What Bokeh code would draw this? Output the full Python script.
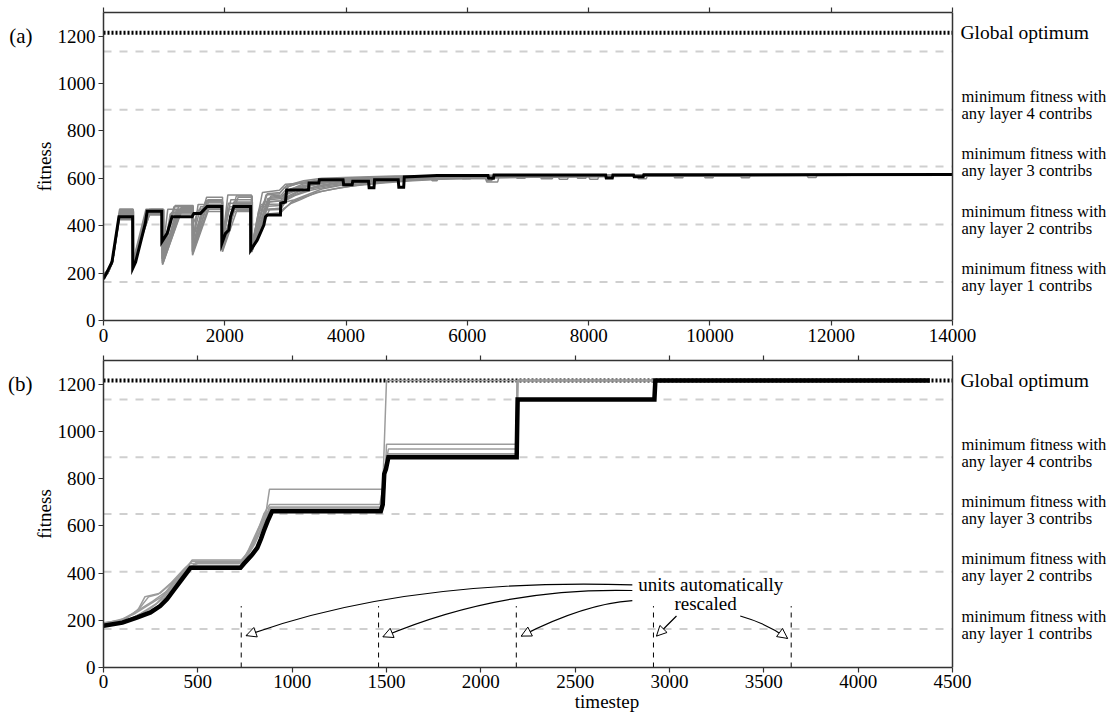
from bokeh.plotting import figure
from bokeh.layouts import column
from bokeh.models import Label, LinearAxis, FixedTicker, Range1d, Span, Arrow, NormalHead
from bokeh.embed import file_html
from bokeh.resources import INLINE

FONT = "Liberation Serif"

# ---------------- data ----------------
x_ticks_a = [0, 2000, 4000, 6000, 8000, 10000, 12000, 14000]
x_ticks_b = [0, 500, 1000, 1500, 2000, 2500, 3000, 3500, 4000, 4500]
y_ticks = [0, 200, 400, 600, 800, 1000, 1200]

optimum_level = 1215
layer_levels = [163, 405, 650, 890]
layer_numbers = [1, 2, 3, 4]
extra_level = 1135

# panel (a): best run (black)
black_a = [(0,175),(60,205),(140,247),(255,438),(480,438),(482,220),(530,247),(690,411),(720,461),
           (960,461),(962,332),(1050,368),(1130,438),(1460,438),(1490,452),(1600,452),(1710,481),
           (1950,481),(1952,325),(2012,368),(2067,382),(2094,438),(2150,481),(2425,481),(2427,297),
           (2534,339),(2644,403),(2672,438),(2700,445),(2918,445),(2922,495),(3000,500),(3020,551),
           (3380,552),(3390,580),(3550,580),(3560,594),(3950,594),(3960,573),(4100,573),(4110,588),
           (4370,588),(4380,560),(4460,560),(4470,594),(4860,594),(4870,562),(4950,562),(4960,606),
           (5500,612),(6340,612),(6350,600),(6430,600),(6440,614),(8280,614),(8290,601),(8390,601),
           (8400,614),(8740,614),(8750,607),(8900,607),(8910,615),(14000,616)]

# panel (a): other runs (grey)
gray_a1 = [(0,190),(90,215),(160,270),(270,470),(485,470),(487,250),(700,470),(980,470),(982,300),(1060,470),
           (1470,470),(1472,330),(1560,490),(1955,490),(1957,320),(2050,530),(2440,530),(2442,310),(2620,540),
           (2900,550),(3000,575),(3300,580),(3600,595),(4000,600),(4500,605),(5200,610),(6000,612),(7000,614),
           (14000,616)]
gray_a2 = [(0,185),(80,205),(150,250),(265,445),(490,445),(492,240),(740,455),(985,455),(987,250),(1280,475),
           (1475,475),(1477,290),(1750,490),(1960,490),(1962,295),(2180,480),(2445,480),(2447,290),(2720,510),
           (2950,515),(3050,545),(3200,560),(3500,575),(3900,590),(4400,596),(4800,600),(5400,598),(5420,590),
           (5500,590),(5520,606),(7000,610),(9000,613),(14000,615)]
gray_a3 = [(0,180),(70,200),(145,245),(260,430),(488,430),(490,235),(725,460),(975,460),(977,240),(1300,470),
           (1468,470),(1470,280),(1700,490),(1950,490),(1952,300),(2150,470),(2450,470),(2452,300),(2700,450),
           (2920,455),(3100,500),(3300,520),(3600,545),(3900,560),(4300,575),(4700,585),(5200,595),(6300,600),
           (6320,585),(6500,585),(6520,605),(8000,608),(11000,613),(14000,615)]
gray_a4 = [(0,195),(100,220),(170,280),(280,460),(495,460),(497,255),(780,465),(990,465),(992,270),(1160,480),
           (1480,480),(1482,300),(1680,500),(1965,500),(1967,310),(2150,500),(2455,500),(2457,320),(2680,530),
           (2900,535),(2980,560),(3200,578),(3500,585),(3800,592),(4300,598),(5000,605),(7200,610),(7220,598),
           (7400,598),(7420,612),(14000,616)]
gray_a5 = [(0,178),(60,195),(140,240),(255,425),(482,425),(484,228),(710,450),(965,450),(967,260),(1220,460),
           (1462,460),(1464,400),(1580,470),(1960,470),(1962,290),(2200,465),(2438,465),(2440,288),(2740,500),
           (2950,505),(3150,530),(3400,555),(3700,570),(4000,580),(4500,590),(5100,600),(6000,605),(8000,610),
           (8020,596),(8150,596),(8170,611),(14000,614)]
gray_a6 = [(0,188),(85,210),(155,260),(268,455),(487,455),(489,245),(750,462),(982,462),(984,290),(1290,480),
           (1471,480),(1473,350),(1720,510),(1958,510),(1960,330),(2220,520),(2446,520),(2448,305),(2760,525),
           (2930,530),(3050,565),(3300,585),(3700,595),(4200,600),(4800,606),(5900,610),(5920,598),(6050,598),
           (6070,612),(14000,616)]
gray_a7 = [(0,183),(75,203),(148,248),(262,440),(486,440),(488,232),(735,458),(972,458),(974,235),(1300,478),
           (1466,478),(1468,275),(1750,480),(1953,480),(1955,305),(2170,475),(2442,475),(2444,295),(2740,470),
           (2930,475),(3000,500),(3150,510),(3350,530),(3600,555),(3900,570),(4400,580),(5000,592),(5800,600),
           (7500,606),(7520,596),(7650,596),(7670,608),(10000,612),(14000,615)]
gray_a8 = [(0,192),(95,218),(165,275),(275,465),(492,465),(494,260),(790,468),(995,468),(997,310),(1180,485),
           (1478,485),(1480,320),(1700,520),(1963,520),(1965,300),(2190,525),(2452,525),(2454,315),(2700,535),
           (2910,540),(3020,570),(3300,590),(3600,600),(4100,605),(4800,610),(6800,612),(6820,600),(6950,600),
           (6970,614),(14000,617)]
gray_a9 = [(0,180),(65,198),(142,243),(258,435),(484,435),(486,240),(715,455),(968,455),(970,250),(1260,468),
           (1469,468),(1471,285),(1740,485),(1948,485),(1950,298),(2140,460),(2436,460),(2438,290),(2690,445),
           (2915,448),(2960,470),(3100,495),(3250,510),(3500,540),(3800,555),(4100,568),(4600,580),(5100,590),
           (5700,598),(6300,600),(6320,590),(6400,590),(6420,603),(9000,610),(14000,614)]
gray_a10 = [(0,186),(88,212),(158,262),(270,450),(489,450),(491,238),(745,460),(978,460),(980,245),(1270,472),
            (1473,472),(1475,300),(1730,500),(1956,500),(1958,315),(2170,490),(2448,490),(2450,300),(2750,520),
            (2940,525),(3080,555),(3300,570),(3700,588),(4200,595),(4700,603),(5600,608),(8800,610),(8820,598),
            (8950,598),(8970,612),(14000,615)]
gray_a11 = [(0,184),(80,208),(150,255),(266,470),(490,470),(492,250),(760,470),(985,470),(987,280),(1250,470),
            (1476,470),(1478,310),(1660,480),(1952,480),(1954,320),(2100,510),(2440,510),(2442,300),(2640,500),
            (2920,505),(3050,540),(3250,560),(3600,580),(4000,592),(4600,600),(5300,606),(9400,612),(9420,602),
            (9550,602),(9570,613),(14000,615)]
gray_a12 = [(0,182),(72,200),(146,247),(262,445),(483,445),(485,242),(720,445),(970,445),(972,265),(1120,455),
            (1465,455),(1467,295),(1620,470),(1945,470),(1947,310),(2080,480),(2435,480),(2437,295),(2600,490),
            (2915,492),(3000,520),(3200,545),(3500,565),(3800,578),(4200,588),(4800,597),(5500,604),(10500,612),
            (10520,603),(10650,603),(10670,613),(14000,615)]
gray_a13 = [(0,187),(82,210),(152,256),(264,452),(487,452),(489,236),(770,458),(976,458),(978,255),(1200,465),
            (1470,465),(1472,305),(1640,475),(1957,475),(1959,292),(2120,470),(2447,470),(2449,292),(2660,470),
            (2925,472),(3040,520),(3250,548),(3550,570),(3900,585),(4400,594),(5000,602),(6200,608),(7800,611),
            (7820,600),(7950,600),(7970,612),(14000,615)]
gray_a14 = [(0,181),(68,199),(144,244),(259,438),(485,438),(487,248),(705,452),(970,452),(972,285),(1140,462),
            (1468,462),(1470,340),(1600,480),(1951,480),(1953,318),(2060,495),(2441,495),(2443,305),(2580,480),
            (2920,485),(3010,530),(3200,552),(3450,572),(3750,586),(4200,596),(4900,604),(6600,610),(11600,613),
            (11620,604),(11750,604),(11770,614),(14000,616)]
gray_a15 = [(0,189),(92,216),(162,272),(272,462),(491,462),(493,245),(725,462),(988,462),(990,262),(1240,482),
            (1474,482),(1476,315),(1690,505),(1962,505),(1964,305),(2160,495),(2450,495),(2452,310),(2710,515),
            (2935,520),(3060,550),(3280,575),(3600,590),(4000,598),(4600,604),(5400,608),(9900,612),(9920,603),
            (10050,603),(10070,613),(14000,616)]
gray_a16 = [(0,179),(66,197),(143,242),(257,432),(483,432),(485,230),(695,448),(967,448),(969,242),(1100,450),
            (1464,450),(1466,290),(1540,460),(1946,460),(1948,300),(2040,470),(2433,470),(2435,290),(2560,465),
            (2912,468),(2990,505),(3180,530),(3420,550),(3700,565),(4050,578),(4500,588),(5100,596),(5900,603),
            (7000,608),(12500,613),(14000,615)]

# panel (b): best run (black)
black_b = [(0,177),(100,190),(180,212),(249,233),(300,260),(337,290),(370,325),(408,366),(440,400),(461,422),
           (726,422),(745,440),(762,455),(790,480),(815,507),(835,545),(849,577),(870,620),(894,662),
           (1470,662),(1480,690),(1488,820),(1497,840),(1510,890),(2190,890),(2195,1135),(2920,1135),
           (2925,1215),(4380,1215)]

# panel (b): other runs (grey)
gray_b1 = [(0,185),(100,205),(180,240),(220,300),(300,315),(350,350),(420,400),(470,455),(730,455),(780,500),
           (830,580),(880,680),(1470,680),(1490,760),(1500,945),(2190,945),(2195,1215),(4380,1215)]
gray_b2 = [(0,190),(100,200),(200,250),(260,280),(330,320),(400,390),(460,440),(720,440),(760,480),(810,560),
           (860,650),(880,755),(1480,755),(1500,1215),(4380,1215)]
gray_b3 = [(0,180),(120,195),(200,230),(280,270),(350,330),(420,395),(480,430),(740,430),(790,470),(830,530),
           (870,620),(890,670),(1480,670),(1500,880),(1510,925),(2190,925),(2195,1215),(4380,1215)]
gray_b4 = [(0,175),(100,188),(220,225),(300,265),(380,340),(440,405),(490,445),(725,445),(770,490),(820,560),
           (860,640),(885,675),(1475,675),(1495,860),(1510,905),(2190,905),(2195,1215),(4380,1215)]
gray_b5 = [(0,178),(90,192),(170,215),(250,250),(320,295),(390,360),(450,415),(475,425),(720,425),(750,455),
           (800,520),(840,590),(880,665),(1470,665),(1490,850),(1510,895),(2190,895),(2195,1215),(4380,1215)]
gray_b6 = [(0,182),(110,200),(190,250),(240,300),(290,310),(360,360),(430,420),(470,450),(735,450),(760,470),
           (800,540),(850,650),(880,690),(1465,690),(1480,760),(1500,900),(2190,900),(2195,1215),(4380,1215)]
gray_b7 = [(0,188),(80,198),(160,225),(240,265),(310,300),(380,365),(450,425),(500,440),(728,440),(770,500),
           (815,580),(860,655),(895,668),(1472,668),(1488,820),(1505,890),(2185,890),(2192,1215),(4380,1215)]

# panel (b): rescaling annotation
rescale_x = [730, 1458, 2188, 2915, 3645]
rescale_top = 260
arrow_tail = [(2803, 350), (2803, 326), (2803, 283), (3037, 218), (3375, 218)]
arrow_ctrl = [(1600, 380), (2100, 340), (2550, 270), (2984, 176), (3520, 185)]
arrow_tip = [(756, 135), (1481, 130), (2214, 133), (2931, 133), (3626, 123)]

AXIS_COLOR = "#333333"
FIG_W = 1110
LEFT = 103
PLOT_W = 849            # width of the boxed plotting area in px
FRAME_W = FIG_W - LEFT  # frame extends to the right to hold the side labels


def xs(run):
    return [p[0] for p in run]


def ys(run):
    return [p[1] for p in run]


def style_axis(ax, size="19px"):
    ax.axis_line_color = AXIS_COLOR
    ax.axis_line_width = 1.5
    ax.major_tick_line_color = AXIS_COLOR
    ax.major_tick_line_width = 1.2
    ax.major_tick_in = 0
    ax.major_tick_out = 5
    ax.minor_tick_line_color = None
    ax.major_label_text_font = FONT
    ax.major_label_text_font_size = size
    ax.major_label_text_color = "black"
    ax.major_label_standoff = 3
    ax.axis_label_text_font = FONT
    ax.axis_label_text_font_size = "19px"
    ax.axis_label_text_font_style = "normal"
    ax.axis_label_text_color = "black"


def make_panel(xmax, xticks, height, top_border, bottom_border, panel_label, show_xlabel):
    x_end = xmax * FRAME_W / PLOT_W
    p = figure(width=FIG_W, height=height, x_range=Range1d(0, x_end), y_range=Range1d(0, 1300),
               output_backend="svg", toolbar_location=None,
               min_border_left=LEFT, min_border_right=0,
               min_border_top=top_border, min_border_bottom=bottom_border)
    p.grid.visible = False
    p.outline_line_color = None
    p.background_fill_color = "white"
    p.border_fill_color = "white"

    xb = p.below[0]
    yl = p.left[0]
    xb.ticker = FixedTicker(ticks=xticks)
    xb.bounds = (0, xmax)
    yl.ticker = FixedTicker(ticks=y_ticks)
    style_axis(xb)
    style_axis(yl)
    yl.axis_label = "fitness"
    yl.axis_label_standoff = 0
    if show_xlabel:
        xb.axis_label = "timestep"
        xb.axis_label_standoff = 0
        xb.major_label_standoff = 2

    # ticks along the top edge
    top = LinearAxis(ticker=FixedTicker(ticks=xticks), bounds=(0, xmax),
                     major_label_overrides={t: "" for t in xticks},
                     major_label_text_font_size="1px", major_label_standoff=0,
                     major_tick_in=0, major_tick_out=5,
                     major_tick_line_color=AXIS_COLOR, major_tick_line_width=1.2,
                     minor_tick_line_color=None, axis_line_color=AXIS_COLOR, axis_line_width=1.5)
    p.add_layout(top, "above")

    # panel letter, as an outer left axis with one tick
    lab_ax = LinearAxis(ticker=FixedTicker(ticks=[1200]), major_label_overrides={1200: panel_label},
                        major_tick_line_color=None, minor_tick_line_color=None, axis_line_color=None,
                        major_tick_out=0, major_tick_in=0, major_label_standoff=-2,
                        major_label_text_font=FONT, major_label_text_font_size="21px",
                        major_label_text_color="black")
    p.add_layout(lab_ax, "left")

    # right edge of the box
    p.add_layout(Span(location=xmax, dimension="height", line_color=AXIS_COLOR, line_width=1.5))

    # reference levels
    lv = layer_levels + [extra_level]
    p.segment(x0=[0] * len(lv), y0=lv, x1=[xmax] * len(lv), y1=lv, line_color="#cfcfcf",
              line_width=2, line_dash="8 8", level="underlay")
    p.segment(x0=[0], y0=[optimum_level], x1=[xmax], y1=[optimum_level], line_color="black",
              line_width=4, line_dash="2 2", level="underlay")

    # right-hand labels
    p.add_layout(Label(x=xmax, y=optimum_level, x_offset=8, text="Global optimum",
                       text_font=FONT, text_font_size="19.5px", text_baseline="middle",
                       text_align="left", text_color="black"))
    for n, lev in zip(layer_numbers, layer_levels):
        p.add_layout(Label(x=xmax, y=lev, x_offset=9, y_offset=13, text="minimum fitness with",
                           text_font=FONT, text_font_size="16.5px", text_baseline="middle",
                           text_align="left", text_color="black"))
        p.add_layout(Label(x=xmax, y=lev, x_offset=9, y_offset=-4, text=f"any layer {n} contribs",
                           text_font=FONT, text_font_size="16.5px", text_baseline="middle",
                           text_align="left", text_color="black"))
    return p


# ---------------- panel (a) ----------------
p1 = make_panel(14000, x_ticks_a, 350, 12, 30, "(a)", False)
for run in [gray_a1, gray_a2, gray_a3, gray_a4, gray_a5, gray_a6, gray_a7, gray_a8, gray_a9, gray_a10,
            gray_a11, gray_a12, gray_a13, gray_a14, gray_a15, gray_a16]:
    p1.line(xs(run), ys(run), line_color="#8a8a8a", line_width=1.5)
p1.line(xs(black_a), ys(black_a), line_color="black", line_width=3, line_join="miter")

# ---------------- panel (b) ----------------
p2 = make_panel(4500, x_ticks_b, 366, 10, 49, "(b)", True)
for run in [gray_b1, gray_b2, gray_b3, gray_b4, gray_b5, gray_b6, gray_b7]:
    p2.line(xs(run), ys(run), line_color="#9c9c9c", line_width=1.5)
p2.line(xs(black_b), ys(black_b), line_color="black", line_width=4.5, line_join="miter")

p2.segment(x0=rescale_x, y0=[0] * len(rescale_x), x1=rescale_x, y1=[rescale_top] * len(rescale_x),
           line_color="black", line_width=1, line_dash="5 5")

p2.quadratic(x0=[t[0] for t in arrow_tail], y0=[t[1] for t in arrow_tail],
             x1=[t[0] for t in arrow_tip], y1=[t[1] for t in arrow_tip],
             cx=[c[0] for c in arrow_ctrl], cy=[c[1] for c in arrow_ctrl],
             line_color="black", line_width=1.2)
for tail, ctrl, tip in zip(arrow_tail, arrow_ctrl, arrow_tip):
    sx = tip[0] - 0.06 * (tip[0] - ctrl[0])
    sy = tip[1] - 0.06 * (tip[1] - ctrl[1])
    p2.add_layout(Arrow(x_start=sx, y_start=sy, x_end=tip[0], y_end=tip[1],
                        line_color="black", line_width=1.2,
                        end=NormalHead(size=10, fill_color="white", line_color="black", line_width=1)))

p2.add_layout(Label(x=3219, y=352, text="units automatically", text_font=FONT, text_font_size="19px",
                    text_align="center", text_baseline="middle", text_color="black"))
p2.add_layout(Label(x=3191, y=270, text="rescaled", text_font=FONT, text_font_size="19px",
                    text_align="center", text_baseline="middle", text_color="black"))

layout = column(p1, p2, spacing=0)
open("out.html", "w").write(file_html(layout, INLINE))
